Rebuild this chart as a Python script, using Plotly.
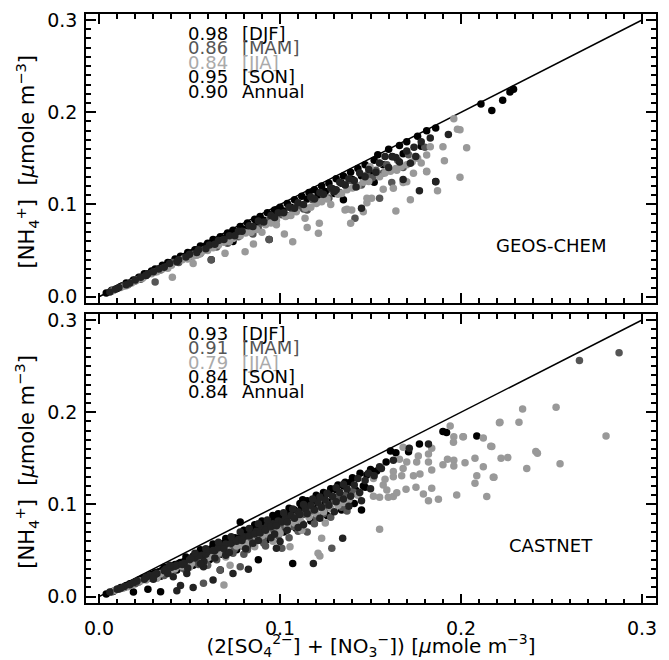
import plotly.graph_objects as go

# ---------------- data (x = 2[SO4]+[NO3], y = [NH4]) ----------------
season_names = ["DJF", "MAM", "JJA", "SON"]
season_colors = {"DJF": "#000000", "MAM": "#555555", "JJA": "#999999", "SON": "#222222"}
text_colors = {"DJF": "#000000", "MAM": "#555555", "JJA": "#aaaaaa", "SON": "#000000", "Annual": "#000000"}

geos_r = {"DJF": "0.98", "MAM": "0.86", "JJA": "0.84", "SON": "0.95", "Annual": "0.90"}
castnet_r = {"DJF": "0.93", "MAM": "0.91", "JJA": "0.79", "SON": "0.84", "Annual": "0.84"}

one_to_one = [0.0, 0.3]

geos_djf = [(0.004,0.004),(0.007,0.007),(0.010,0.009),(0.013,0.012),(0.015,0.015),(0.019,0.018),(0.022,0.021),
            (0.025,0.025),(0.029,0.028),(0.031,0.030),(0.035,0.034),(0.038,0.037),(0.042,0.041),(0.045,0.044),
            (0.049,0.048),(0.053,0.051),(0.056,0.055),(0.060,0.058),(0.063,0.062),(0.067,0.065),(0.071,0.069),
            (0.074,0.072),(0.078,0.076),(0.082,0.080),(0.086,0.084),(0.089,0.087),(0.093,0.091),(0.097,0.094),
            (0.100,0.097),(0.104,0.101),(0.108,0.105),(0.112,0.109),(0.116,0.113),(0.119,0.116),(0.123,0.120),
            (0.127,0.123),(0.131,0.128),(0.135,0.131),(0.139,0.135),(0.143,0.139),(0.147,0.143),(0.152,0.148),
            (0.154,0.154),(0.160,0.160),(0.166,0.164),(0.170,0.168),(0.176,0.174),(0.181,0.180),(0.186,0.183),
            (0.211,0.209),(0.217,0.202),(0.223,0.213),(0.227,0.222),(0.229,0.225),(0.062,0.040),(0.074,0.060),
            (0.094,0.062),(0.130,0.112),(0.135,0.105),(0.152,0.124),(0.162,0.152),(0.186,0.125),
            (0.012,0.011),(0.018,0.016),(0.027,0.025),(0.033,0.030),(0.040,0.037),(0.047,0.043),(0.051,0.047),
            (0.058,0.053),(0.065,0.060),(0.070,0.064),(0.076,0.070),(0.080,0.073),(0.087,0.080),(0.091,0.083),
            (0.096,0.088),(0.102,0.093),(0.106,0.097),(0.110,0.100),(0.115,0.106),(0.121,0.110),(0.125,0.114),
            (0.129,0.117),(0.134,0.123),(0.140,0.127),(0.145,0.131),(0.150,0.136),(0.157,0.143),(0.168,0.155),
            (0.178,0.163)]
geos_mam = [(0.008,0.007),(0.014,0.012),(0.020,0.017),(0.026,0.023),(0.031,0.027),(0.037,0.032),(0.041,0.037),
            (0.047,0.042),(0.052,0.046),(0.058,0.051),(0.062,0.055),(0.068,0.061),(0.073,0.064),(0.079,0.070),
            (0.084,0.075),(0.090,0.080),(0.094,0.083),(0.101,0.089),(0.107,0.094),(0.111,0.098),(0.118,0.105),
            (0.124,0.110),(0.129,0.115),(0.136,0.121),(0.141,0.125),(0.148,0.132),(0.153,0.137),(0.159,0.143),
            (0.165,0.148),(0.171,0.154),(0.180,0.162),(0.031,0.016),(0.062,0.040),(0.071,0.058),(0.085,0.068),
            (0.094,0.062),(0.115,0.094),(0.139,0.126),(0.1414,0.085),(0.155,0.1067),(0.1617,0.1237),
            (0.016,0.013),(0.023,0.019),(0.034,0.029),(0.044,0.037),(0.050,0.043),(0.056,0.047),(0.065,0.054),
            (0.071,0.061),(0.077,0.065),(0.088,0.074),(0.096,0.081),(0.104,0.088),(0.113,0.095),(0.121,0.103),
            (0.127,0.107),(0.133,0.113),(0.145,0.121),(0.151,0.129),(0.157,0.134),(0.168,0.140)]
geos_jja = [(0.007,0.006),(0.012,0.010),(0.018,0.015),(0.024,0.020),(0.029,0.025),(0.035,0.030),(0.040,0.034),
            (0.046,0.040),(0.052,0.044),(0.057,0.049),(0.063,0.053),(0.069,0.059),(0.074,0.063),(0.081,0.069),
            (0.087,0.073),(0.092,0.078),(0.098,0.083),(0.103,0.087),(0.109,0.092),(0.114,0.096),(0.120,0.101),
            (0.126,0.106),(0.132,0.111),(0.137,0.116),(0.143,0.120),(0.149,0.125),(0.155,0.130),(0.161,0.136),
            (0.167,0.141),(0.173,0.146),(0.0405,0.021),(0.052,0.036),(0.0696,0.047),(0.0807,0.0488),
            (0.0853,0.0572),(0.1024,0.068),(0.107,0.0597),(0.115,0.075),(0.1212,0.0688),(0.1217,0.0796),
            (0.1138,0.085),(0.1359,0.094),(0.139,0.0796),(0.1396,0.094),(0.137,0.0948),(0.148,0.102),
            (0.1506,0.1067),(0.157,0.1165),(0.1645,0.137),(0.170,0.1247),(0.181,0.1356),(0.183,0.1627),
            (0.190,0.1627),(0.1737,0.1338),(0.181,0.1537),(0.1746,0.152),(0.155,0.1447),(0.1497,0.141),
            (0.196,0.193),(0.1994,0.181),(0.198,0.1815),(0.2031,0.1616),(0.1994,0.1295),(0.1908,0.1475),
            (0.187,0.115),(0.172,0.105),(0.164,0.093),(0.148,0.1067),(0.146,0.092),(0.1626,0.1176),
            (0.168,0.1237),(0.178,0.145),(0.181,0.136),(0.080,0.070),(0.0554,0.046),(0.090,0.070),
            (0.098,0.078),(0.128,0.100),
            (0.015,0.012),(0.021,0.018),(0.032,0.027),(0.038,0.031),(0.049,0.041),(0.054,0.045),(0.060,0.050),
            (0.066,0.056),(0.072,0.060),(0.078,0.066),(0.084,0.070),(0.095,0.080),(0.106,0.088),(0.117,0.097),
            (0.123,0.103),(0.134,0.112),(0.140,0.118),(0.146,0.124),(0.158,0.134),(0.164,0.139),(0.170,0.143),
            (0.176,0.150)]
geos_son = [(0.006,0.005),(0.011,0.010),(0.017,0.015),(0.023,0.021),(0.027,0.025),(0.033,0.030),(0.039,0.036),
            (0.044,0.040),(0.050,0.046),(0.055,0.051),(0.061,0.056),(0.066,0.061),(0.072,0.066),(0.077,0.071),
            (0.083,0.077),(0.088,0.082),(0.095,0.088),(0.099,0.091),(0.105,0.097),(0.110,0.102),(0.117,0.108),
            (0.122,0.113),(0.128,0.118),(0.133,0.124),(0.138,0.128),(0.144,0.134),(0.149,0.138),(0.155,0.145),
            (0.158,0.152),(0.164,0.151),(0.170,0.158),(0.174,0.162),(0.178,0.168),(0.183,0.172),(0.193,0.176),
            (0.142,0.119),(0.145,0.096),(0.168,0.127),(0.177,0.115),(0.186,0.1247),(0.130,0.114),
            (0.172,0.1447),(0.162,0.1518),
            (0.009,0.008),(0.015,0.013),(0.020,0.018),(0.026,0.023),(0.030,0.027),(0.036,0.032),(0.043,0.038),
            (0.048,0.043),(0.054,0.048),(0.059,0.052),(0.064,0.057),(0.069,0.062),(0.075,0.066),(0.079,0.071),
            (0.085,0.076),(0.091,0.081),(0.097,0.086),(0.102,0.091),(0.108,0.096),(0.113,0.100),(0.119,0.106),
            (0.124,0.111),(0.131,0.116),(0.136,0.121),(0.141,0.126),(0.147,0.130),(0.153,0.135),(0.160,0.140),
            (0.166,0.146),(0.175,0.152)]

castnet_djf = [(0.004,0.003),(0.008,0.006),(0.012,0.010),(0.015,0.012),(0.019,0.005),(0.020,0.016),(0.024,0.020),
               (0.027,0.022),(0.031,0.026),(0.034,0.0054),(0.035,0.029),(0.038,0.031),(0.042,0.035),(0.045,0.037),
               (0.049,0.040),(0.052,0.044),(0.055,0.046),(0.058,0.048),(0.062,0.052),(0.065,0.056),(0.067,0.029),
               (0.069,0.058),(0.072,0.061),(0.075,0.064),(0.078,0.081),(0.079,0.066),(0.082,0.069),(0.085,0.072),
               (0.088,0.040),(0.089,0.076),(0.092,0.078),(0.095,0.081),(0.098,0.084),(0.101,0.087),(0.104,0.090),
               (0.107,0.036),(0.108,0.094),(0.1125,0.105),(0.112,0.097),(0.116,0.101),(0.119,0.104),(0.123,0.108),
               (0.127,0.112),(0.131,0.116),(0.135,0.120),(0.139,0.124),(0.1442,0.1338),(0.148,0.132),(0.145,0.094),
               (0.147,0.1187),(0.1534,0.1363),(0.1586,0.146),(0.161,0.158),(0.164,0.156),(0.171,0.157),
               (0.177,0.1656),(0.190,0.179),(0.192,0.178),(0.2087,0.1743),
               (0.010,0.008),(0.017,0.014),(0.022,0.018),(0.029,0.024),(0.033,0.027),(0.040,0.033),(0.044,0.036),
               (0.047,0.038),(0.054,0.043),(0.057,0.047),(0.060,0.049),(0.064,0.051),(0.067,0.055),(0.071,0.057),
               (0.074,0.059),(0.077,0.063),(0.081,0.065),(0.084,0.067),(0.087,0.070),(0.091,0.073),(0.094,0.075),
               (0.097,0.078),(0.100,0.080),(0.103,0.083),(0.106,0.086),(0.110,0.088),(0.114,0.091),(0.118,0.095),
               (0.121,0.098),(0.125,0.101),(0.129,0.104),(0.133,0.107),(0.137,0.111),(0.142,0.115),(0.146,0.120),
               (0.027,0.008),(0.034,0.022),(0.043,0.029),(0.052,0.034),(0.061,0.040),(0.068,0.046),(0.076,0.051),
               (0.083,0.056),(0.093,0.062),(0.102,0.070),(0.109,0.074),(0.117,0.082),(0.126,0.088),(0.134,0.094),
               (0.141,0.101),
               (0.036,0.032),(0.048,0.043),(0.056,0.051),(0.063,0.057),(0.070,0.063),(0.080,0.072),(0.086,0.078),
               (0.090,0.082),(0.096,0.088),(0.099,0.090),(0.105,0.096),(0.111,0.101),(0.115,0.104),(0.120,0.110),
               (0.124,0.113),(0.128,0.117),(0.132,0.121),(0.136,0.124),(0.140,0.129),(0.150,0.138)]
castnet_mam = [(0.007,0.005),(0.011,0.008),(0.016,0.011),(0.022,0.016),(0.026,0.019),(0.030,0.022),(0.033,0.024),
               (0.037,0.027),(0.041,0.030),(0.044,0.033),(0.048,0.035),(0.051,0.038),(0.054,0.041),(0.059,0.044),
               (0.061,0.046),(0.066,0.049),(0.071,0.053),(0.073,0.055),(0.076,0.057),(0.081,0.060),(0.083,0.063),
               (0.086,0.066),(0.091,0.069),(0.094,0.072),(0.097,0.074),(0.102,0.078),(0.105,0.082),(0.109,0.085),
               (0.113,0.089),(0.118,0.093),(0.122,0.097),(0.126,0.100),(0.130,0.104),(0.136,0.110),(0.140,0.114),
               (0.0577,0.0145),(0.0669,0.029),(0.078,0.0325),(0.1286,0.0525),(0.0908,0.0633),(0.0816,0.054),
               (0.101,0.0525),(0.2654,0.256),(0.2873,0.2646),
               (0.014,0.010),(0.020,0.014),(0.028,0.020),(0.035,0.025),(0.039,0.028),(0.046,0.032),(0.053,0.037),
               (0.057,0.040),(0.063,0.043),(0.068,0.047),(0.075,0.052),(0.079,0.055),(0.085,0.059),(0.089,0.062),
               (0.096,0.067),(0.100,0.071),(0.107,0.076),(0.112,0.080),(0.120,0.086),(0.124,0.090),(0.134,0.097),
               (0.060,0.034),(0.080,0.046),(0.092,0.055),(0.105,0.064),(0.115,0.070),
               (0.036,0.023),(0.047,0.030),(0.055,0.035),(0.065,0.040),(0.074,0.047),(0.082,0.051),(0.091,0.058),
               (0.099,0.066),(0.110,0.071),(0.119,0.079),(0.128,0.086),(0.137,0.093),
               (0.045,0.034),(0.058,0.043),(0.069,0.051),(0.077,0.060),(0.087,0.068),(0.095,0.070),(0.103,0.080),
               (0.108,0.087),(0.116,0.092),(0.125,0.095),(0.132,0.108),(0.142,0.112)]
castnet_jja = [(0.009,0.007),(0.013,0.009),(0.018,0.013),(0.023,0.017),(0.029,0.021),(0.034,0.025),(0.039,0.028),
               (0.046,0.033),(0.051,0.036),(0.056,0.040),(0.062,0.044),(0.066,0.047),(0.071,0.050),(0.076,0.055),
               (0.081,0.058),(0.087,0.064),(0.093,0.068),(0.099,0.072),(0.104,0.077),(0.111,0.083),(0.116,0.086),
               (0.124,0.092),(0.132,0.099),(0.138,0.105),(0.143,0.110),(0.069,0.0127),(0.0724,0.034),(0.122,0.044),
               (0.123,0.0633),(0.1055,0.054),(0.100,0.0687),(0.121,0.047),(0.194,0.185),(0.196,0.1735),
               (0.201,0.1735),(0.2123,0.172),(0.2164,0.163),(0.2212,0.1887),(0.1838,0.161),(0.168,0.162),
               (0.166,0.149),(0.170,0.146),(0.1764,0.1526),(0.182,0.1548),(0.182,0.146),(0.1755,0.146),
               (0.1626,0.1356),(0.168,0.139),(0.1672,0.131),(0.1626,0.130),(0.1737,0.131),(0.1773,0.1331),
               (0.1838,0.1374),(0.190,0.143),(0.1925,0.149),(0.196,0.148),(0.2022,0.1453),(0.196,0.1418),
               (0.2077,0.150),(0.2123,0.141),(0.2087,0.131),(0.2077,0.123),(0.2178,0.1295),(0.2142,0.1085),
               (0.1626,0.1085),(0.1696,0.1165),(0.1751,0.1187),(0.1838,0.1176),(0.1792,0.1114),(0.182,0.104),
               (0.1875,0.1056),(0.1976,0.1103),(0.1516,0.109),(0.155,0.1078),(0.1598,0.1078),(0.1645,0.1128),
               (0.155,0.073),(0.1516,0.128),(0.158,0.1273),(0.157,0.121),(0.159,0.1157),(0.234,0.2036),
               (0.2525,0.2054),(0.2215,0.189),(0.232,0.189),(0.2801,0.1743),(0.217,0.1627),(0.2221,0.150),
               (0.2258,0.151),(0.2413,0.1573),(0.2422,0.1555),(0.2363,0.139),(0.2547,0.144),(0.2182,0.1295),
               (0.1958,0.1674),(0.2013,0.1735),
               (0.016,0.011),(0.026,0.018),(0.042,0.030),(0.060,0.042),(0.079,0.056),(0.090,0.066),(0.108,0.080),
               (0.120,0.090),(0.128,0.096),(0.135,0.102),
               (0.032,0.020),(0.050,0.032),(0.058,0.036),(0.070,0.043),(0.086,0.054),(0.096,0.060),(0.112,0.072),
               (0.125,0.080)]
castnet_son = [(0.006,0.005),(0.010,0.008),(0.014,0.011),(0.017,0.013),(0.021,0.017),(0.025,0.019),(0.028,0.023),
               (0.032,0.025),(0.036,0.028),(0.040,0.032),(0.043,0.034),(0.047,0.036),(0.050,0.040),(0.053,0.042),
               (0.057,0.045),(0.060,0.049),(0.063,0.018),(0.064,0.050),(0.068,0.054),(0.070,0.057),(0.074,0.060),
               (0.077,0.062),(0.080,0.065),(0.084,0.068),(0.087,0.071),(0.090,0.074),(0.093,0.077),(0.096,0.079),
               (0.099,0.082),(0.103,0.085),(0.106,0.088),(0.110,0.092),(0.114,0.095),(0.117,0.099),(0.121,0.102),
               (0.125,0.105),(0.129,0.109),(0.133,0.113),(0.137,0.117),(0.141,0.121),(0.1488,0.1338),(0.155,0.141),
               (0.156,0.139),(0.1626,0.148),(0.1714,0.161),(0.182,0.1656),(0.0825,0.0297),(0.100,0.0597),
               (0.098,0.0525),(0.1346,0.0633),(0.0577,0.0325),(0.0485,0.025),(0.041,0.0217),(0.074,0.025),
               (0.1184,0.036),(0.043,0.0065),(0.052,0.010),
               (0.012,0.009),(0.019,0.015),(0.026,0.021),(0.031,0.024),(0.037,0.030),(0.042,0.033),(0.046,0.035),
               (0.051,0.042),(0.055,0.044),(0.059,0.046),(0.063,0.050),(0.066,0.053),(0.069,0.052),(0.073,0.058),
               (0.076,0.060),(0.079,0.061),(0.083,0.066),(0.086,0.068),(0.089,0.069),(0.092,0.072),(0.095,0.076),
               (0.098,0.077),(0.101,0.081),(0.104,0.081),(0.108,0.085),(0.111,0.089),(0.115,0.090),(0.119,0.094),
               (0.123,0.097),(0.127,0.099),(0.131,0.103),(0.135,0.106),(0.139,0.109),(0.144,0.113),(0.150,0.117),
               (0.058,0.038),(0.070,0.045),(0.085,0.058),(0.095,0.064),(0.110,0.075),(0.045,0.012),
               (0.030,0.019),(0.038,0.025),(0.049,0.031),(0.056,0.036),(0.064,0.042),(0.072,0.048),(0.081,0.052),
               (0.088,0.061),(0.097,0.068),(0.104,0.072),(0.113,0.078),(0.122,0.085),(0.130,0.092),(0.138,0.098),
               (0.145,0.104),
               (0.039,0.034),(0.053,0.047),(0.059,0.052),(0.066,0.059),(0.073,0.065),(0.078,0.070),(0.083,0.074),
               (0.088,0.079),(0.093,0.083),(0.102,0.091),(0.107,0.095),(0.113,0.100),(0.118,0.106),(0.122,0.108),
               (0.126,0.112),(0.131,0.118),(0.135,0.122),(0.143,0.128),(0.147,0.126),(0.152,0.131)]

panels = [
    ("GEOS-CHEM", {"DJF": geos_djf, "MAM": geos_mam, "JJA": geos_jja, "SON": geos_son}, geos_r, "x", "y"),
    ("CASTNET", {"DJF": castnet_djf, "MAM": castnet_mam, "JJA": castnet_jja, "SON": castnet_son}, castnet_r, "x2", "y2"),
]

FONT = "DejaVu Sans"
W, H = 669, 660

x_dom = [86 / W, 656 / W]
y_top = [(H - 303) / H, (H - 14) / H]
y_bot = [(H - 603.3) / H, (H - 314) / H]
y_doms = [y_top, y_bot]

ytitle = "[NH<sub>4</sub><sup>+</sup>]\u00a0\u00a0[<i>μ</i>mole m<sup>−3</sup>]"
xtitle = "(2[SO<sub>4</sub><sup>2−</sup>] + [NO<sub>3</sub><sup>−</sup>]) [<i>μ</i>mole m<sup>−3</sup>]"

fig = go.Figure()
annotations = []
for (label, series, rvals, xa, ya), ydom in zip(panels, y_doms):
    fig.add_trace(go.Scatter(x=one_to_one, y=one_to_one, mode="lines",
                             line=dict(color="black", width=1.5), xaxis=xa, yaxis=ya,
                             showlegend=False, hoverinfo="skip"))
    for s in season_names:
        pts = series[s]
        fig.add_trace(go.Scatter(x=[p[0] for p in pts], y=[p[1] for p in pts], mode="markers",
                                 marker=dict(size=7.5, color=season_colors[s], line=dict(width=0)),
                                 name=s, xaxis=xa, yaxis=ya, showlegend=False))
    rows = ["DJF", "MAM", "JJA", "SON", "Annual"]
    ys = [0.2855, 0.2698, 0.2541, 0.2384, 0.2226]
    for key, yy in zip(rows, ys):
        col = text_colors[key]
        annotations.append(dict(x=0.0485, y=yy, xref=xa, yref=ya, text=rvals[key], showarrow=False,
                                xanchor="left", yanchor="middle", borderpad=0,
                                font=dict(family=FONT, size=18, color=col)))
        lab = "Annual" if key == "Annual" else "[" + key + "]"
        annotations.append(dict(x=0.0785, y=yy, xref=xa, yref=ya, text=lab, showarrow=False,
                                xanchor="left", yanchor="middle", borderpad=0,
                                font=dict(family=FONT, size=18, color=col)))
    annotations.append(dict(x=0.2496, y=0.055, xref=xa, yref=ya, text=label, showarrow=False,
                            xanchor="center", yanchor="middle", font=dict(family=FONT, size=18, color="black")))
    # y-axis title (rotated), centred on the panel
    annotations.append(dict(x=26 / W, y=(ydom[0] + ydom[1]) / 2 - 3 / H, xref="paper", yref="paper",
                            text=ytitle, textangle=-90, showarrow=False,
                            xanchor="center", yanchor="middle",
                            font=dict(family=FONT, size=21, color="black")))

common = dict(showgrid=False, zeroline=False, showline=True, linecolor="black", linewidth=1.5,
              mirror="ticks", ticks="inside", ticklen=10, tickwidth=1.5, tickcolor="black",
              tickmode="linear", tick0=0, dtick=0.1, tickformat=".1f",
              minor=dict(tickmode="linear", tick0=0, dtick=0.01, ticks="inside", ticklen=5,
                         tickwidth=1.5, tickcolor="black", showgrid=False),
              tickfont=dict(family=FONT, size=19, color="black"))

fig.update_layout(
    width=W, height=H, template="none",
    paper_bgcolor="white", plot_bgcolor="white",
    margin=dict(l=0, r=0, t=0, b=0),
    showlegend=False,
    xaxis=dict(common, domain=x_dom, range=[-0.0072, 0.3077], anchor="y", showticklabels=False),
    yaxis=dict(common, domain=y_top, range=[-0.0068, 0.3065], anchor="x", ticklabelstandoff=3),
    xaxis2=dict(common, domain=x_dom, range=[-0.0072, 0.3077], anchor="y2", matches="x",
                ticklabelstandoff=7,
                title=dict(text=xtitle, font=dict(family=FONT, size=20, color="black"), standoff=3)),
    yaxis2=dict(common, domain=y_bot, range=[-0.0072, 0.3065], anchor="x2", ticklabelstandoff=3),
    annotations=annotations,
)

fig.write_html("out.html", config={"displayModeBar": False},
               post_script="document.body.style.margin='0';document.body.style.overflow='hidden';")
